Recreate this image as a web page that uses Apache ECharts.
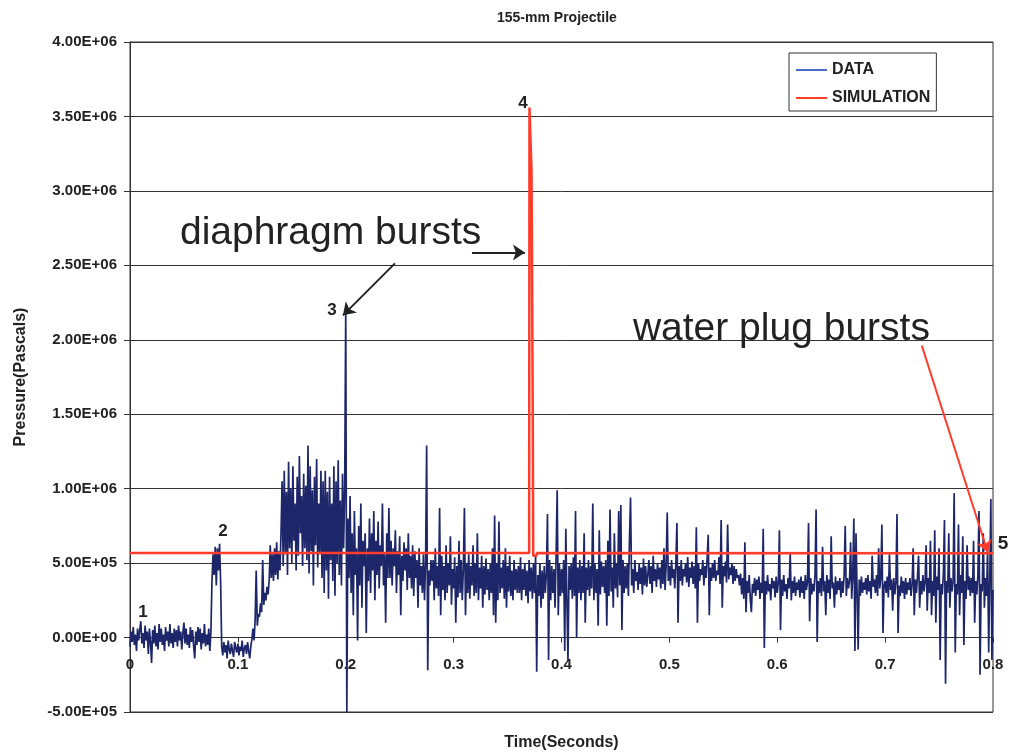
<!DOCTYPE html>
<html>
<head>
<meta charset="utf-8">
<title>155-mm Projectile</title>
<script src="https://cdn.jsdelivr.net/npm/echarts@6/dist/echarts.min.js"></script>
<style>
  html, body { margin: 0; padding: 0; background: #fff; }
  #chart { width: 1013px; height: 755px; }
</style>
</head>
<body>
<div id="chart"></div>
<script>
// sampled pressure record, one value per millisecond, in kPa
var sampleStep = 0.001;
var pressureKPa = [
  -60, 40, -30, 70, -50, 20, -90, 60, -20, 50, 110, -40, 30, -70, 80, -20, 40, -110, 60, -30,      // 0.00
  -170, 50, -40, 80, -60, 30, -80, 90, -30, 60, -50, 20, -90, 70, -20, 40, -60, 90, -40, 30,       // 0.02
  -70, 60, -30, 50, -60, 80, -20, 40, -80, 30, 100, -40, 60, -50, 20, -70, 70, -30, 50, -60,       // 0.04
  -140, 40, -50, 70, -30, 60, -80, 30, -40, 90, -60, 20, -50, 60, -90, 40, 380, 560, 420, 610,     // 0.06
  350, 600, 450, 630, 380, -60, -120, -30, -100, -50, -140, -20, -80, -110, -40, -90, -130, -30, -70, -100, // 0.08
  -40, -120, -60, -90, -20, -130, -70, -50, -110, -30, -90, -140, -60, -10, 60, -20, 120, 450, 80, 160,   // 0.10
  140, 230, 170, 520, 220, 300, 250, 340, 290, 380, 620, 400, 560, 380, 600, 420, 640, 390, 580, 450,    // 0.12
  700, 1050, 480, 1120, 560, 980, 420, 1180, 600, 1000, 500, 1150, 650, 900, 450, 1080, 550, 1220, 700, 950, // 0.14
  480, 1100, 600, 1020, 520, 1290, 430, 1150, 580, 990, 350, 1080, 620, 1200, 470, 900, 560, 1120, 400, 1050, // 0.16
  300, 1120, 450, 980, 260, 1080, 520, 900, 380, 1150, 280, 1050, 500, 1190, 420, 920, 350, 1100, 600, 1000,  // 0.18
  2200, -500, 800, 400, 950, 300, 700, 150, 850, 420, 600, -20, 750, 350, 900, 200, 650, 480, 700, 30,   // 0.20
  600, 380, 800, 300, 700, 450, 850, 250, 650, 420, 780, 330, 620, 480, 900, 350, 560, 100, 700, 400,    // 0.22
  870, 400, 650, 350, 600, 480, 720, 300, 580, 420, 680, 150, 550, 380, 640, 450, 600, 320, 700, 400,    // 0.24
  550, 330, 620, 280, 580, 400, 520, 200, 600, 350, 480, 300, 560, 250, 500, 1290, -220, 450, 350, 520,  // 0.26
  380, 520, 250, 600, 330, 480, 280, 870, 150, 550, 320, 480, 250, 620, 300, 500, 350, 680, 220, 460,    // 0.28
  330, 540, 100, 480, 270, 650, 300, 520, 250, 460, 870, 150, 500, 300, 560, 260, 480, 350, 620, 280,    // 0.30
  500, 300, 700, 250, 470, 330, 550, 200, 480, 290, 530, 320, 460, 250, 500, 300, 600, 150, 820, 100,    // 0.32
  500, 250, 780, 300, 470, 330, 520, 260, 600, 200, 480, 310, 550, 280, 450, 250, 520, 320, 460, 300,    // 0.34
  480, 300, 540, 250, 460, 320, 500, 280, 450, 230, 520, 310, 470, 260, 500, 300, 550, -230, 420, 280,   // 0.36
  500, 200, 450, 260, 480, 300, 430, 830, -150, 520, 250, 480, 300, 460, 200, 550, 990, 150, 500, 280,   // 0.38
  460, 300, 520, -90, 730, 250, -150, 480, 320, 500, 260, 540, 280, 850, 0, 470, 300, 520, 250, 480,     // 0.40
  300, 700, 100, 470, 320, 520, 280, 480, 330, 900, 250, 500, 300, 460, 80, 720, 290, 510, 340, 480,     // 0.42
  300, 520, 80, 650, 280, 860, 310, 470, 200, 700, 330, 500, 270, 850, 350, 890, 50, 520, 300, 480,      // 0.44
  330, 500, 280, 650, 940, 350, 460, 300, 520, 380, 440, 320, 500, 360, 470, 290, 530, 350, 480, 340,    // 0.46
  420, 520, 360, 480, 300, 550, 380, 460, 340, 500, 390, 470, 330, 520, 360, 600, 320, 480, 840, 380,    // 0.48
  480, 350, 520, 400, 460, 330, 500, 770, 100, 480, 380, 520, 350, 460, 410, 500, 370, 540, 340, 470,    // 0.50
  400, 510, 360, 480, 330, 740, 100, 500, 380, 460, 420, 520, 350, 480, 400, 530, 690, 150, 470, 380,    // 0.52
  500, 400, 520, 380, 450, 420, 540, 360, 790, 200, 480, 410, 510, 370, 760, 390, 470, 420, 500, 360,    // 0.54
  480, 380, 460, 400, 420, 350, 430, 290, 400, 260, 640, 170, 380, 300, 420, 260, 170, 360, 300, 400,    // 0.56
  280, 390, 320, 410, 260, 370, 300, 730, -70, 380, 290, 420, 310, 360, 250, 400, 330, 380, 270, 410,    // 0.58
  300, 370, 720, 50, 390, 280, 420, 310, 360, 260, 400, 330, 570, 250, 380, 300, 410, 280, 370, 320,     // 0.60
  390, 270, 410, 300, 380, 260, 420, 320, 370, 770, 110, 400, 290, 360, 310, 420, 860, -30, 380, 300,    // 0.62
  400, 280, 610, 310, 380, 150, 420, 300, 390, 260, 680, 330, 370, 200, 410, 290, 380, 320, 400, 270,    // 0.64
  380, 300, 420, 750, 280, 400, 330, 380, 640, 260, 420, 800, -90, 700, 310, -80, 390, 280, 410, 300,    // 0.66
  370, 320, 400, 290, 420, 310, 380, 260, 550, 340, 390, 300, 420, 280, 600, 330, 400, 760, 30, 350,     // 0.68
  380, 300, 410, 270, 560, 320, 390, 180, 400, 290, 370, 830, 30, 350, 280, 410, 300, 380, 260, 400,     // 0.70
  290, 370, 320, 400, 280, 360, 600, 150, 390, 300, 410, 550, 200, 380, 290, 420, 310, 370, 620, 180,    // 0.72
  400, 300, 650, 150, 380, 280, 720, 100, 410, 320, 600, -150, 360, 290, 430, 790, -310, 380, 300, 700,  // 0.74
  200, 400, 310, 380, 970, -100, 360, 290, 760, 150, 420, 300, 680, -50, 380, 260, 620, 320, 410, 280,   // 0.76
  400, 300, 650, 100, 380, 290, 420, 850, -250, 360, 310, 700, 200, 400, 280, 600, -100, 380, 930, -150, // 0.78
  320                                                                                               // 0.80
];

// simulated pressure (Pa)
var simTime = [0, 0.3700, 0.3703, 0.3718, 0.3722, 0.3728, 0.3733, 0.3738, 0.3768, 0.3772, 0.8];
var simPressure = [5.68e5, 5.68e5, 3.56e6, 3.56e6, 3.14e6, 2.3e6, 1.6e6, 5.5e5, 5.5e5, 5.68e5, 5.66e5];

var xTicks = [0, 0.8, 0.1];          // min, max, interval
var yTicks = [-5e5, 4e6, 5e5];

// annotations: [text, time, pressure]
var numberNotes = [
  ['1', 0.0120, 1.68e5],
  ['2', 0.0862, 7.12e5],
  ['3', 0.1872, 2.20e6],
  ['4', 0.3642, 3.59e6],
  ['5', 0.8000, 6.32e5]
];
var textNotes = [
  ['diaphragm bursts', 0.0463, 2.715e6],
  ['water plug bursts', 0.4662, 2.07e6]
];
var arrowNotes = [
  [[0.2456, 2.513e6], [0.1974, 2.164e6], '#222'],
  [[0.3170, 2.587e6], [0.3661, 2.587e6], '#222'],
  [[0.7340, 1.962e6], [0.7952, 0.571e6], '#ff3b2a']
];

var dataPoints = pressureKPa.map(function (v, i) {
  return [+(i * sampleStep).toFixed(3), v * 1000];
});
var simPoints = simTime.map(function (t, i) { return [t, simPressure[i]]; });

function sci(v) {
  if (v === 0) return '0.00E+00';
  var e = Math.floor(Math.log10(Math.abs(v)) + 1e-9);
  var m = v / Math.pow(10, e);
  return m.toFixed(2) + 'E+' + (e < 10 ? '0' : '') + e;
}

var FONT = 'Liberation Sans, Arial, sans-serif';
var gridTop = 42, gridBottom = 43, chartH = 755;
// the time axis sits on the zero pressure line
var plotH = chartH - gridTop - gridBottom;
var zeroOffset = -plotH * (0 - yTicks[0]) / (yTicks[1] - yTicks[0]);

var chart = echarts.init(document.getElementById('chart'));
chart.setOption({
  backgroundColor: '#fff',
  animation: false,
  title: {
    text: '155-mm Projectile',
    left: 497,
    top: 11,
    padding: 0,
    textStyle: { fontFamily: FONT, fontSize: 14, fontWeight: 'bold', color: '#222' }
  },
  legend: {
    data: [
      { name: 'DATA', itemStyle: { color: '#4a6cc4' } },
      { name: 'SIMULATION', itemStyle: { color: '#ff3b2a' } }
    ],
    orient: 'vertical',
    left: 789,
    top: 53,
    icon: 'rect',
    itemWidth: 31,
    itemHeight: 2,
    itemGap: 12,
    itemTextGap: 5,
    padding: [9, 6, 5, 7],
    borderColor: '#333',
    borderWidth: 1,
    backgroundColor: '#fff',
    textStyle: { fontFamily: FONT, fontSize: 16, fontWeight: 'bold', color: '#222', lineHeight: 16 }
  },
  grid: {
    left: 130, right: 20, top: gridTop, bottom: gridBottom,
    outerBoundsMode: 'none',
    containLabel: false,
    show: true, borderColor: '#333', borderWidth: 1
  },
  xAxis: {
    type: 'value',
    min: xTicks[0], max: xTicks[1], interval: xTicks[2],
    position: 'bottom',
    offset: zeroOffset,
    name: 'Time(Seconds)',
    nameLocation: 'middle',
    nameGap: 97,
    nameTextStyle: { fontFamily: FONT, fontSize: 16, fontWeight: 'bold', color: '#222' },
    axisLine: { onZero: false, lineStyle: { color: '#333', width: 1 } },
    axisTick: { show: true, length: 5, lineStyle: { color: '#333' } },
    splitLine: { show: false },
    axisLabel: {
      margin: 20,
      fontFamily: FONT, fontSize: 15, fontWeight: 'bold', color: '#222',
      formatter: function (v) { return v === 0 ? '0' : String(+v.toFixed(1)); }
    }
  },
  yAxis: {
    type: 'value',
    min: yTicks[0], max: yTicks[1], interval: yTicks[2],
    name: 'Pressure(Pascals)',
    nameLocation: 'middle',
    nameGap: 101,
    nameTextStyle: { fontFamily: FONT, fontSize: 16, fontWeight: 'bold', color: '#222' },
    axisLine: { show: true, onZero: false, lineStyle: { color: '#333', width: 1 } },
    axisTick: { show: true, length: 6, lineStyle: { color: '#333' } },
    splitLine: { show: true, lineStyle: { color: '#333', width: 1 } },
    axisLabel: {
      margin: 13,
      fontFamily: FONT, fontSize: 15, fontWeight: 'bold', color: '#222',
      formatter: sci
    }
  },
  series: [
    {
      name: 'DATA',
      type: 'line',
      data: dataPoints,
      showSymbol: false,
      sampling: null,
      lineStyle: { color: '#1c2669', width: 1.7 },
      itemStyle: { color: '#1c2669' },
      z: 2
    },
    {
      name: 'SIMULATION',
      type: 'line',
      data: simPoints,
      showSymbol: false,
      lineStyle: { color: '#ff3b2a', width: 2.5 },
      itemStyle: { color: '#ff3b2a' },
      z: 3
    },
    {
      name: 'notes',
      type: 'line',
      data: [],
      z: 4,
      clip: false,
      markLine: {
        silent: true,
        symbol: ['none', 'arrow'],
        symbolSize: 12,
        label: { show: false },
        data: arrowNotes.map(function (a) {
          return [
            { coord: a[0], lineStyle: { color: a[2], width: 2, type: 'solid' }, itemStyle: { color: a[2] } },
            { coord: a[1] }
          ];
        })
      },
      markPoint: {
        silent: true,
        symbol: 'circle',
        symbolSize: 0,
        data: numberNotes.map(function (n) {
          var last = n[0] === '5';
          return {
            coord: [n[1], n[2]],
            label: {
              show: true, position: 'inside', formatter: n[0],
              offset: last ? [10, 0] : [0, 0],
              fontFamily: FONT, fontSize: last ? 19 : 17,
              fontWeight: 'bold', color: '#222'
            }
          };
        }).concat(textNotes.map(function (n) {
          return {
            coord: [n[1], n[2]],
            label: {
              show: true, position: 'right', distance: 0, formatter: n[0],
              fontFamily: FONT, fontSize: 39, color: '#222'
            }
          };
        }))
      }
    }
  ]
});
</script>
</body>
</html>
